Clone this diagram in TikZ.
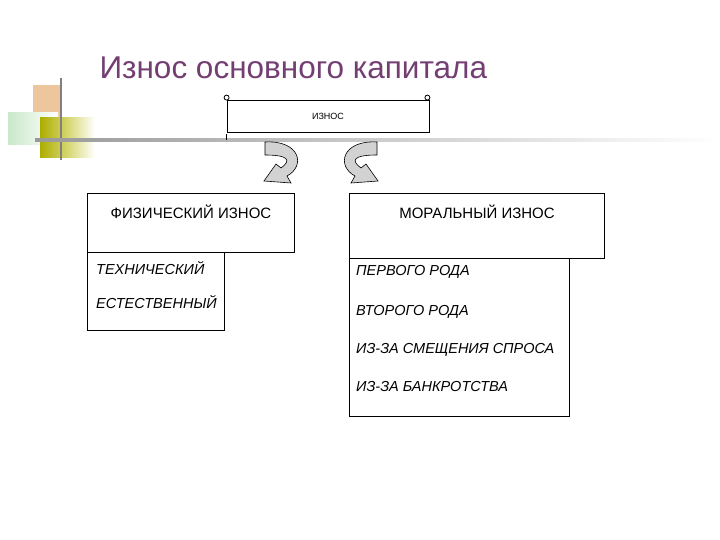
\documentclass[tikz,border=0pt]{standalone}
\usepackage{fontspec}
\setmainfont{Liberation Sans}
\begin{document}
\begin{tikzpicture}[x=1pt,y=-1pt,
  box/.style={draw,thick,inner sep=0pt},
  lbl/.style={font=\fontsize{15}{17}\selectfont},
  ilbl/.style={font=\fontsize{14.5}{17}\selectfont\itshape,anchor=west,inner sep=0pt},
  arr/.style={draw,fill=gray!35,line width=0.6pt}]
\useasboundingbox (0,0) rectangle (720,540);
\fill[white] (0,0) rectangle (720,540);
% decoration
\fill[orange!40!brown!45] (33,85) rectangle (62,120);
\shade[left color=green!40!gray!30, right color=white] (8,113) rectangle (58,145);
\shade[left color=olive!80!yellow!80, right color=white] (40,118) rectangle (95,158);
\draw[gray,line width=2pt] (61,78) -- (61,160);
\shade[left color=gray!80, right color=white] (35,139) rectangle (720,141.5);
% title
\node[anchor=west,text=violet!45!gray!90!black,font=\fontsize{31.5}{34}\selectfont] (title) at (96,68) {Износ основного капитала};
% scroll
\node[box,minimum width=202,minimum height=32,line width=0.8pt,font=\fontsize{9}{10}\selectfont] (iznos) at (328,116) {ИЗНОС};
\draw[line width=0.8pt] (iznos.north west) ++(0,-2) circle (2.5);
\draw[line width=0.8pt] (iznos.north east) ++(-2,-2) circle (2.5);
\draw[line width=0.8pt] (iznos.south west) ++(0,2) -- ++(0,6);
% curved arrows
\foreach \s/\xs in {0/1,642/-1}{
\begin{scope}[shift={(\s,0)},xscale=\xs]
\path[arr] (265,142) .. controls (300,140) and (306,166) .. (287,176)
  -- (291,183) -- (264,181) -- (276,164) -- (281,168)
  .. controls (292,160) and (288,155) .. (265,155) -- cycle;
\end{scope}}
% left boxes
\node[box,minimum width=207,minimum height=59,anchor=north west] (fiz) at (87,193) {};
\node[lbl,anchor=north] at (191,201) {ФИЗИЧЕСКИЙ ИЗНОС};
\node[box,minimum width=137,minimum height=78,anchor=north west] (fizsub) at (87,252) {};
\node[ilbl] (tech) at (96,268) {ТЕХНИЧЕСКИЙ};
\node[ilbl] (est) at (96,302) {ЕСТЕСТВЕННЫЙ};
% right boxes
\node[box,minimum width=255,minimum height=65,anchor=north west] (mor) at (349,193) {};
\node[lbl,anchor=north] at (477,201) {МОРАЛЬНЫЙ ИЗНОС};
\node[box,minimum width=220,minimum height=158,anchor=north west] (morsub) at (349,258) {};
\node[ilbl] (p1) at (356,272) {ПЕРВОГО РОДА};
\node[ilbl] (p2) at (356,312) {ВТОРОГО РОДА};
\node[ilbl] (p3) at (356,350) {ИЗ-ЗА СМЕЩЕНИЯ СПРОСА};
\node[ilbl] (p4) at (356,387) {ИЗ-ЗА БАНКРОТСТВА};
\end{tikzpicture}
\end{document}
